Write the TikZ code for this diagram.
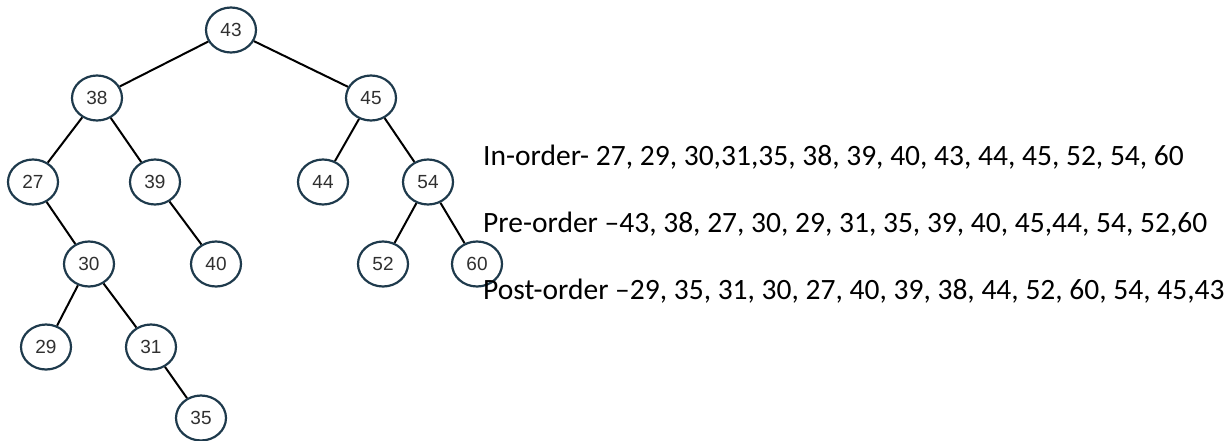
\documentclass[tikz,border=0pt]{standalone}
\usepackage{fontspec}
\setmainfont{Carlito}
\newfontfamily\nodefont{Liberation Sans}
\usetikzlibrary{shapes.geometric}
\definecolor{ringcol}{HTML}{1E3A4C}
\definecolor{numcol}{HTML}{303030}
\tikzset{
  treenode/.style={ellipse, draw=ringcol, line width=2.2pt, fill=white,
    minimum width=50pt, minimum height=45pt, inner sep=0pt,
    font=\nodefont\fontsize{19}{19}\selectfont, text=numcol},
  branch/.style={line width=2pt, black},
  orderline/.style={anchor=base west, inner sep=0pt,
    font=\fontsize{29.5}{29.5}\selectfont, text=black}
}
\begin{document}
\begin{tikzpicture}[x=1pt, y=-1pt]
\useasboundingbox (0,0) rectangle (1230,440);
% tree nodes
\node[treenode] (n43) at (231,30) {43};
\node[treenode] (n38) at (97,98) {38};
\node[treenode] (n45) at (371,98) {45};
\node[treenode] (n27) at (33,182) {27};
\node[treenode] (n39) at (155,182) {39};
\node[treenode] (n44) at (323,182) {44};
\node[treenode] (n54) at (428,182) {54};
\node[treenode] (n30) at (89,264) {30};
\node[treenode] (n40) at (216,264) {40};
\node[treenode] (n52) at (383,264) {52};
\node[treenode] (n60) at (477,264) {60};
\node[treenode] (n29) at (46,347) {29};
\node[treenode] (n31) at (151,347) {31};
\node[treenode] (n35) at (201,418) {35};
% branches
\draw[branch] (n43) -- (n38);
\draw[branch] (n43) -- (n45);
\draw[branch] (n38) -- (n27);
\draw[branch] (n38) -- (n39);
\draw[branch] (n45) -- (n44);
\draw[branch] (n45) -- (n54);
\draw[branch] (n27) -- (n30);
\draw[branch] (n39) -- (n40);
\draw[branch] (n54) -- (n52);
\draw[branch] (n54) -- (n60);
\draw[branch] (n30) -- (n29);
\draw[branch] (n30) -- (n31);
\draw[branch] (n31) -- (n35);
% traversal listings
\node[orderline] (inord) at (483,165) {In-order- 27, 29, 30,31,35, 38, 39, 40, 43, 44, 45, 52, 54, 60};
\node[orderline] (preord) at (483,232) {Pre-order –43, 38, 27, 30, 29, 31, 35, 39, 40, 45,44, 54, 52,60};
\node[orderline] (postord) at (483,299) {Post-order –29, 35, 31, 30, 27, 40, 39, 38, 44, 52, 60, 54, 45,43};
\end{tikzpicture}
\end{document}
